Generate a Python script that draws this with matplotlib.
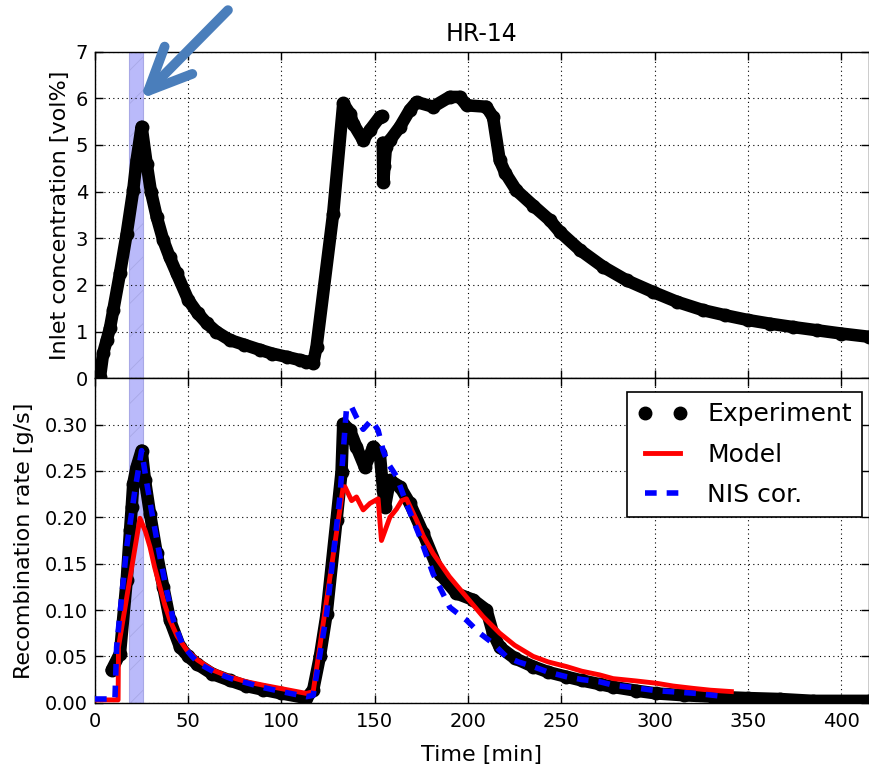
import numpy as np
import matplotlib.pyplot as plt
from matplotlib.ticker import FormatStrFormatter

# ---- top panel: inlet concentration (vol%), experiment
# NaN marks the small break in the record at ~154 min
inlet_t = [0, 2.7, 4.4, 6.3, 8.0, 9.8, 13.4, 17.0, 20.5, 22.3, 25.0, 27.7, 30.0,
           33.1, 36.6, 40.0, 43.8, 50.0, 55.0, 59.9, 65.0, 72.3, 80.0, 88.4, 95.0,
           102.7, 109.9, 113.4, 117.0, 118.8, 127.7, 133.1, 136.7, 138.4, 143.8,
           147.4, 152.7, 154.0, np.nan,
           154.3, 154.6, 155.2, 156.0, 158.1, 163.5, 168.8, 172.4, 181.3, 190.2,
           195.6, 199.2, 209.8, 213.4, 217.0, 220.0, 225.9, 235.0, 243.8, 249.2,
           260.0, 272.4, 285.0, 299.2, 312.0, 326.0, 338.0, 350.0, 362.0, 374.0,
           387.0, 400.0, 415.0]
inlet_c = [0, 0.03, 0.54, 0.82, 1.07, 1.46, 2.25, 3.10, 4.03, 4.67, 5.39, 4.60, 4.00,
           3.46, 2.96, 2.60, 2.25, 1.68, 1.40, 1.18, 1.00, 0.82, 0.72, 0.61, 0.53,
           0.46, 0.39, 0.36, 0.32, 0.68, 3.53, 5.89, 5.67, 5.46, 5.10,
           5.32, 5.60, 5.62, np.nan,
           5.05, 4.20, 4.55, 4.95, 5.10, 5.39, 5.75, 5.92, 5.82, 6.03,
           6.03, 5.85, 5.82, 5.60, 4.67, 4.40, 4.03, 3.70, 3.39, 3.14,
           2.75, 2.39, 2.10, 1.85, 1.64, 1.46, 1.35, 1.25, 1.17, 1.10,
           1.03, 0.96, 0.89]

# ---- bottom panel: recombination rate (g/s)
exp_t = [8.9, 13.4, 17.0, 18.8, 19.7, 20.5, 22.3, 25.0, 26.8, 29.5, 33.1, 36.6,
         40.2, 45.6, 50.0, 54.5, 63.0, 72.3, 81.0, 90.2, 100.0, 113.4, 117.0,
         120.6, 124.2, 129.5, 132.2, 133.1, 136.7, 140.2, 144.7, 149.2, 152.7,
         154.5, 155.4, 158.1, 163.5, 168.8, 175.9, 184.9, 193.8, 202.7, 209.9,
         213.4, 217.0, 225.0, 234.9, 243.0, 252.8, 261.0, 270.6, 277.8, 290.0,
         301.0, 316.0, 331.4, 350.0, 367.1, 384.9, 415.0]
exp_r = [0.035, 0.053, 0.132, 0.186, 0.211, 0.236, 0.254, 0.272, 0.240, 0.204,
         0.161, 0.125, 0.089, 0.060, 0.050, 0.042, 0.031, 0.024, 0.018, 0.014,
         0.010, 0.005, 0.014, 0.050, 0.096, 0.197, 0.249, 0.301, 0.294, 0.276,
         0.254, 0.276, 0.269, 0.229, 0.211, 0.240, 0.233, 0.215, 0.183, 0.139,
         0.118, 0.111, 0.100, 0.075, 0.060, 0.048, 0.039, 0.033, 0.028, 0.024,
         0.020, 0.017, 0.013, 0.010, 0.008, 0.0065, 0.005, 0.004, 0.002, 0.002]

model_t = [0, 12.4, 12.6, 24.1, 27.0, 29.5, 32.0, 34.8, 37.5, 40.2, 44.0, 49.1,
           55.0, 63.4, 72.0, 81.3, 90.0, 99.1, 113.4, 117.0, 133.1, 134.0, 137.6,
           140.2, 143.8, 147.4, 151.8, 153.6, 158.1, 161.7, 164.4, 167.0, 172.4,
           176.0, 181.3, 190.0, 199.2, 208.0, 217.0, 225.0, 234.9, 243.0, 252.8,
           261.0, 270.6, 277.8, 290.0, 301.0, 310.0, 320.6, 330.0, 341.2]
model_r = [0.003, 0.003, 0.060, 0.199, 0.185, 0.168, 0.146, 0.125, 0.105, 0.089,
           0.072, 0.057, 0.046, 0.035, 0.028, 0.0226, 0.019, 0.0155, 0.010, 0.012,
           0.233, 0.233, 0.218, 0.222, 0.208, 0.215, 0.220, 0.175, 0.200, 0.209,
           0.218, 0.220, 0.197, 0.180, 0.161, 0.136, 0.114, 0.093, 0.075, 0.062,
           0.050, 0.044, 0.039, 0.034, 0.030, 0.026, 0.0235, 0.021, 0.018, 0.0155,
           0.0135, 0.012]

nis_t = [0, 10.7, 11.6, 17.0, 21.4, 25.0, 27.5, 30.5, 34.5, 38.0, 42.0, 47.0,
         52.0, 56.0, 64.0, 73.0, 82.0, 91.0, 100.0, 113.4, 117.0, 124.2, 131.3,
         134.9, 137.6, 140.2, 143.8, 148.3, 151.8, 154.5, 157.2, 161.7, 167.0,
         174.2, 181.3, 190.2, 199.2, 206.3, 213.4, 220.6, 227.0, 234.9, 243.0,
         252.8, 261.0, 270.6, 277.8, 290.0, 301.0, 312.0, 322.5, 336.0]
nis_r = [0.004, 0.004, 0.060, 0.168, 0.229, 0.272, 0.240, 0.205, 0.161, 0.125,
         0.089, 0.062, 0.050, 0.042, 0.033, 0.026, 0.021, 0.016, 0.012, 0.0065,
         0.008, 0.096, 0.222, 0.319, 0.319, 0.308, 0.295, 0.305, 0.294, 0.272,
         0.258, 0.244, 0.215, 0.179, 0.139, 0.103, 0.089, 0.075, 0.064, 0.0496,
         0.044, 0.039, 0.033, 0.028, 0.025, 0.0226, 0.019, 0.016, 0.013, 0.0115,
         0.010, 0.007]

span = (18.4, 25.5)   # highlighted interval [min]

fig = plt.figure(figsize=(8.69, 7.7), dpi=100)
ax1 = fig.add_axes([0.1093, 0.5087, 0.8907, 0.4242])
ax2 = fig.add_axes([0.1093, 0.0874, 0.8907, 0.4213], sharex=ax1)

plt.rcParams['hatch.linewidth'] = 0.6
for ax in (ax1, ax2):
    ax.axvspan(span[0], span[1], facecolor=(0.73, 0.73, 0.98), edgecolor=(0.66, 0.66, 0.9),
               hatch='/', lw=0.8, zorder=1)
    ax.grid(True, color='k', linestyle=(0, (1, 3)), linewidth=0.8)
    ax.tick_params(direction='in', top=True, right=True, length=6, width=1, labelsize=14)
    ax.tick_params(axis='y', pad=5)
    ax.tick_params(axis='x', pad=7)
    for s in ax.spines.values():
        s.set_linewidth(1.0)

# top
ax1.plot(inlet_t, inlet_c, '-', color='k', lw=9, solid_capstyle='round',
         solid_joinstyle='round', zorder=3)
ax1.plot(inlet_t, inlet_c, 'o', color='k', ms=9, zorder=3)
ax1.set_xlim(0, 415)
ax1.set_ylim(0, 7)
ax1.set_yticks(range(0, 8))
ax1.tick_params(axis='x', labelbottom=False)
ax1.set_ylabel('Inlet concentration [vol%]', fontsize=16)
ax1.set_title('HR-14', fontsize=17, pad=8)

ax1.annotate('', xy=(24.1, 5.98), xytext=(71.3, 7.89), annotation_clip=False,
             arrowprops=dict(arrowstyle='->,head_length=3.1,head_width=1.4',
                             lw=7, color='#4a7ebb', mutation_scale=10,
                             capstyle='round', joinstyle='round',
                             shrinkA=0, shrinkB=0))

# bottom
ax2.plot(exp_t, exp_r, '-', color='k', lw=9, solid_capstyle='round',
         solid_joinstyle='round', zorder=3)
ax2.plot(exp_t, exp_r, 'o', color='k', ms=9, zorder=3, label='Experiment')
ax2.plot(model_t, model_r, '-', color='red', lw=3.5, zorder=4, label='Model')
ax2.plot(nis_t, nis_r, '--', color='blue', lw=4, dashes=(2.1, 1.8), zorder=5,
         label='NIS cor.')
ax2.set_ylim(0, 0.35)
ax2.set_yticks(np.arange(0, 0.31, 0.05))
ax2.yaxis.set_major_formatter(FormatStrFormatter('%.2f'))
ax2.set_xticks(range(0, 401, 50))
ax2.set_xlabel('Time [min]', fontsize=16, labelpad=10)
ax2.set_ylabel('Recombination rate [g/s]', fontsize=16, labelpad=7.5)

leg = ax2.legend(loc='upper right', bbox_to_anchor=(0.991, 0.957), borderaxespad=0,
                 numpoints=2, fontsize=18, fancybox=False, framealpha=1,
                 handlelength=2.0, labelspacing=0.65, edgecolor='k')
leg.get_frame().set_linewidth(1.2)

fig.savefig('out.png', dpi=100)
